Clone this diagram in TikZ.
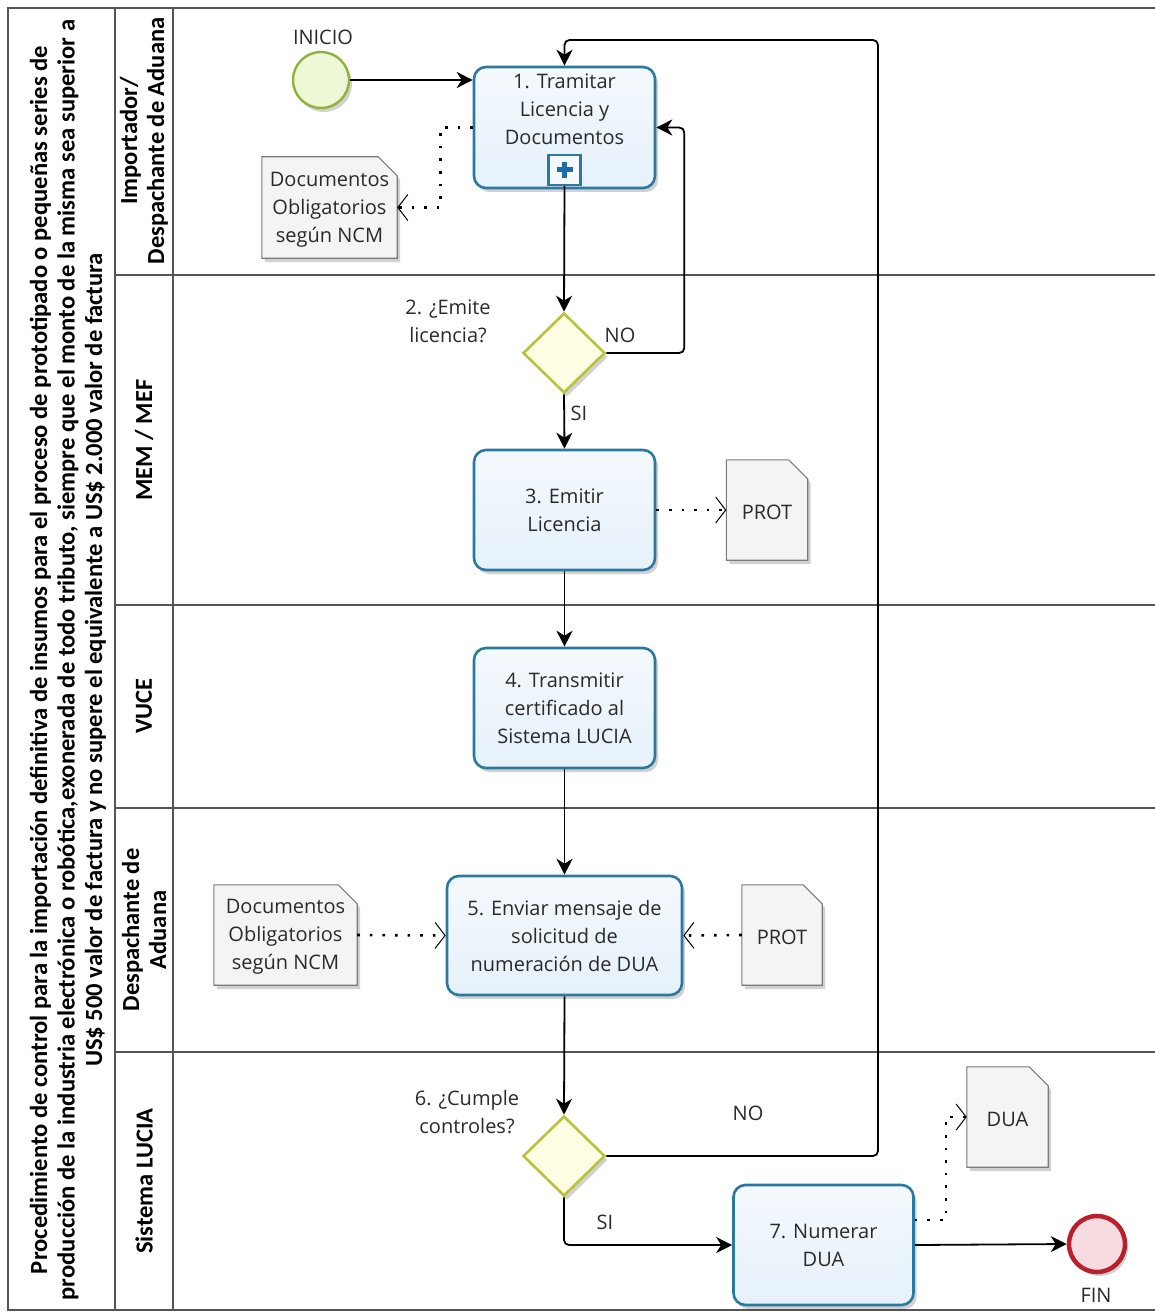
\documentclass[tikz,border=0pt]{standalone}
\usepackage{fontspec}
\setmainfont{Open Sans}
\newfontfamily\tfont{Carlito}
\usetikzlibrary{shadows,arrows.meta,shapes.geometric}
\definecolor{taskedge}{HTML}{2B7A9E}
\definecolor{taskfill}{HTML}{E6F1FA}
\definecolor{gwedge}{HTML}{B9C23C}
\definecolor{gwfill}{HTML}{FFFEE4}
\definecolor{stedge}{HTML}{8DB33A}
\definecolor{stfill}{HTML}{EEF8D6}
\definecolor{enedge}{HTML}{B8202C}
\definecolor{enfill}{HTML}{F6DCE0}
\definecolor{docfill}{HTML}{F4F4F4}
\definecolor{docedge}{HTML}{7A7A7A}
\definecolor{laneline}{HTML}{555555}
\definecolor{txt}{HTML}{2A2A2A}
\definecolor{plusblue}{HTML}{1F6DA8}
\tikzset{
  shd/.style={drop shadow={shadow xshift=3pt,shadow yshift=-4pt,opacity=0.18,fill=black}},
  task/.style={draw=taskedge,line width=2.6pt,rounded corners=12pt,top color=white!55!taskfill,bottom color=taskfill,
    align=center,text=txt,inner sep=2pt,font=\fontsize{20}{28}\selectfont,shd},
  gw/.style={diamond,draw=gwedge,line width=2.6pt,fill=gwfill,inner sep=0pt,minimum width=82pt,minimum height=80pt,shd},
  startev/.style={circle,draw=stedge,line width=2.4pt,fill=stfill,minimum size=56pt,inner sep=0pt,shd},
  endev/.style={circle,draw=enedge,line width=4.5pt,fill=enfill,minimum size=56pt,inner sep=0pt,shd},
  docbox/.style={rectangle,draw=none,inner sep=0pt},
  docline/.style={draw=docedge,line width=1.1pt,fill=docfill,shd},
  doctext/.style={align=center,text=txt,inner sep=0pt,font=\fontsize{20}{28}\selectfont},
  lbl/.style={align=center,text=txt,inner sep=0pt,font=\fontsize{20}{28}\selectfont},
  seq/.style={draw=black,line width=1.8pt,-{Stealth[length=16pt,width=16pt,inset=5pt]},rounded corners=5pt},
  assoc/.style={draw=black,line width=2.6pt,dash pattern=on 2.6pt off 10pt,
    -{Straight Barb[length=10pt,width=26pt,line width=1pt]}},
  lane/.style={draw=laneline,line width=1.6pt},
  lanelbl/.style={rotate=90,align=center,font=\tfont\bfseries\fontsize{24.5}{27}\selectfont,inner sep=0pt},
}
\newcommand\docnode[5]{%
  \node[docbox,minimum width=#3,minimum height=#4] (#1) at #2 {};
  \path[docline] (#1.south west) -- (#1.north west) -- ([xshift=-19pt]#1.north east)
     -- ([yshift=-19pt]#1.north east) -- (#1.south east) -- cycle;
  \node[doctext] (#1-t) at ([yshift=-2pt]#1.center) {#5};
}
\begin{document}
\begin{tikzpicture}[x=1pt,y=-1pt]
\useasboundingbox (0,0) rectangle (1155,1316);
\fill[white] (0,0) rectangle (1155,1316);
% pool and lanes
\draw[lane] (1156,8) -- (8,8) -- (8,1310) -- (1156,1310);
\draw[lane] (115,8) -- (115,1310);
\draw[lane] (173,8) -- (173,1310);
\foreach \yy in {275,605,808,1052} \draw[lane] (115,\yy) -- (1156,\yy);
\node[lanelbl,font=\tfont\bfseries\fontsize{24.6}{27.5}\selectfont] (title) at (68,660) {Procedimiento de control para la importación definitiva de insumos para el proceso de prototipado o pequeñas series de\\producción de la industria electrónica o robótica,exonerada de todo tributo, siempre que el monto de la misma sea superior a\\US\$ 500 valor de factura y no supere el equivalente a US\$ 2.000 valor de factura};
\node[lanelbl] (l1) at (144,141) {Importador/\\Despachante de Aduana};
\node[lanelbl] (l2) at (144,440) {MEM / MEF};
\node[lanelbl] (l3) at (144,706) {VUCE};
\node[lanelbl] (l4) at (144,930) {Despachante de\\Aduana};
\node[lanelbl] (l5) at (144,1181) {Sistema LUCIA};
% events
\node[startev] (start) at (321,80) {};
\node[lbl] (startl) at (323,37) {INICIO};
\node[endev] (fin) at (1097,1244) {};
\node[lbl] (finl) at (1096,1295) {FIN};
% tasks
\node[task,minimum width=181pt,minimum height=121pt] (t1) at (564.5,127.5) {};
\node[lbl] (t1t) at (564.5,109) {1. Tramitar\\Licencia y\\Documentos};
\node[draw=taskedge,line width=2.2pt,fill=white!60!taskfill,minimum width=32pt,minimum height=30pt,inner sep=0pt] (t1m) at (564.5,170) {};
\draw[plusblue,line width=5pt] ([xshift=-8pt]t1m.center) -- ([xshift=8pt]t1m.center)
  ([yshift=-8pt]t1m.center) -- ([yshift=8pt]t1m.center);
\node[task,minimum width=181pt,minimum height=120pt] (t3) at (564.5,510) {3. Emitir\\Licencia};
\node[task,minimum width=181pt,minimum height=120pt] (t4) at (564.5,708) {4. Transmitir\\certificado al\\Sistema LUCIA};
\node[task,minimum width=235pt,minimum height=119pt] (t5) at (564.5,935.5) {5. Enviar mensaje de\\solicitud de\\numeración de DUA};
\node[task,minimum width=180pt,minimum height=120pt] (t7) at (823.5,1245) {7. Numerar\\DUA};
% gateways
\node[gw] (g2) at (564,353) {};
\node[lbl] (g2l) at (448,321) {2. ¿Emite\\licencia?};
\node[gw] (g6) at (564,1156) {};
\node[lbl] (g6l) at (467,1112) {6. ¿Cumple\\controles?};
% data objects
\docnode{d1}{(329.5,207.5)}{135pt}{101pt}{Documentos\\Obligatorios\\según NCM}
\docnode{p1}{(767,510)}{81pt}{100pt}{PROT}
\docnode{d2}{(285.5,935)}{143pt}{100pt}{Documentos\\Obligatorios\\según NCM}
\docnode{p2}{(782,935)}{80pt}{100pt}{PROT}
\docnode{dua}{(1007.5,1117)}{81pt}{100pt}{DUA}
% sequence flows
\draw[seq] (start.east) -- (start.east -| t1.west);
\draw[seq] (t1m.south) -- (g2.north);
\draw[seq] (g2.east) -| ([xshift=28pt]t1.east) -- (t1.east);
\node[lbl] (no1) at (620,335) {NO};
\draw[seq] (g2.south) -- (t3.north);
\node[lbl] (si1) at (579,413) {SI};
\draw[seq] (t3.south) -- (t4.north);
\draw[seq] (t4.south) -- (t5.north);
\draw[seq] (t5.south) -- (g6.north);
\coordinate (loop) at (878,40);
\draw[seq] (g6.east) -| (loop) -| (t1.north);
\node[lbl] (no2) at (748,1113) {NO};
\draw[seq] (g6.south) |- (t7.west);
\node[lbl] (si2) at (605,1222) {SI};
\draw[seq] (t7.east) -- (fin.west);
% associations
\draw[assoc] (t1.west) -- ++(-32,0) |- (d1.east);
\draw[assoc] (t3.east) -- (p1.west);
\draw[assoc] (d2.east) -- (t5.west);
\draw[assoc] (p2.west) -- (t5.east);
\draw[assoc] ([yshift=25pt]t7.east) -- ++(31,0) |- (dua.west);
\end{tikzpicture}
\end{document}
